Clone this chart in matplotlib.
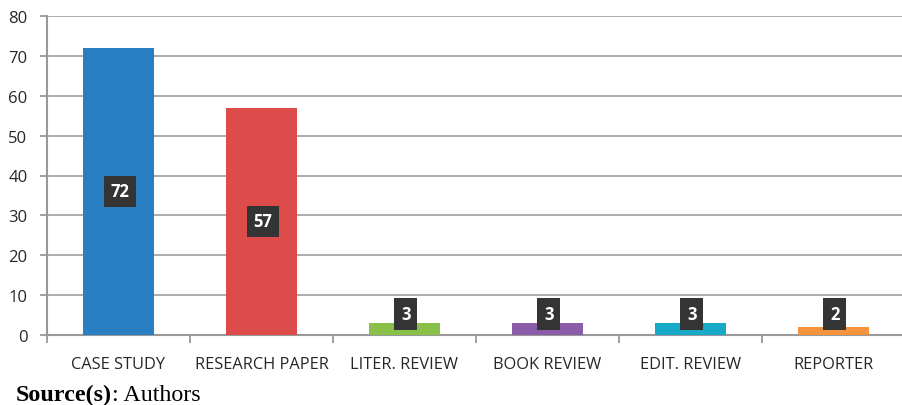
import matplotlib.pyplot as plt

# data
categories = ["CASE STUDY", "RESEARCH PAPER", "LITER. REVIEW", "BOOK REVIEW", "EDIT. REVIEW", "REPORTER"]
counts = [72, 57, 3, 3, 3, 2]
colors = ["#2a7ec2", "#de4b4b", "#88c04a", "#8b5da8", "#19a9c8", "#f5923e"]

fig = plt.figure(figsize=(9.02, 4.06), dpi=100)
ax = fig.add_axes([47 / 902, 70 / 406, 855 / 902, 319 / 406])

x = range(len(categories))
ax.bar(x, counts, width=0.5, color=colors, zorder=3)

# dark value boxes, middle of bar for tall bars, lifted for short ones
for i, v in enumerate(counts):
    ax.text(i + 0.01, max(v / 2, 5.3), str(v), ha="center", va="center",
            color="white", fontsize=12, fontweight="bold", family="Open Sans", zorder=5,
            bbox=dict(boxstyle="square,pad=0.4", fc="#343434", ec="none"))

ax.set_ylim(0, 80)
ax.set_xlim(-0.5, 5.48)
ax.set_yticks(range(0, 81, 10))
ax.yaxis.grid(True, color="#a6a6a6", linewidth=1.3, zorder=0)
ax.set_axisbelow(True)

ax.set_xticks(list(x))
ax.set_xticklabels(categories, family="Open Sans", fontsize=11.8, color="#262626")
ax.set_xticks([i - 0.5 for i in range(len(categories))], minor=True)
ax.tick_params(axis="x", which="major", length=0, pad=15)
ax.tick_params(axis="x", which="minor", length=6, color="#999999", width=1.3)
ax.tick_params(axis="y", length=5, color="#999999", width=1.3, pad=9, labelsize=12)
for lab in ax.get_yticklabels():
    lab.set_family("Open Sans")
    lab.set_color("#262626")

for s in ["top", "right"]:
    ax.spines[s].set_visible(False)
for s in ["left", "bottom"]:
    ax.spines[s].set_color("#999999")
    ax.spines[s].set_linewidth(1.5)

# source line: bold part then regular part right after it
src = fig.text(16 / 902, 1 - 401 / 406, "Source(s)", family="Liberation Serif",
               fontsize=17.3, fontweight="bold", va="baseline")
fig.canvas.draw()
bb = src.get_window_extent()
fig.text(bb.x1 / 902, 1 - 401 / 406, ": Authors", family="Liberation Serif",
         fontsize=17.3, va="baseline")

fig.savefig("out.png", dpi=100)
